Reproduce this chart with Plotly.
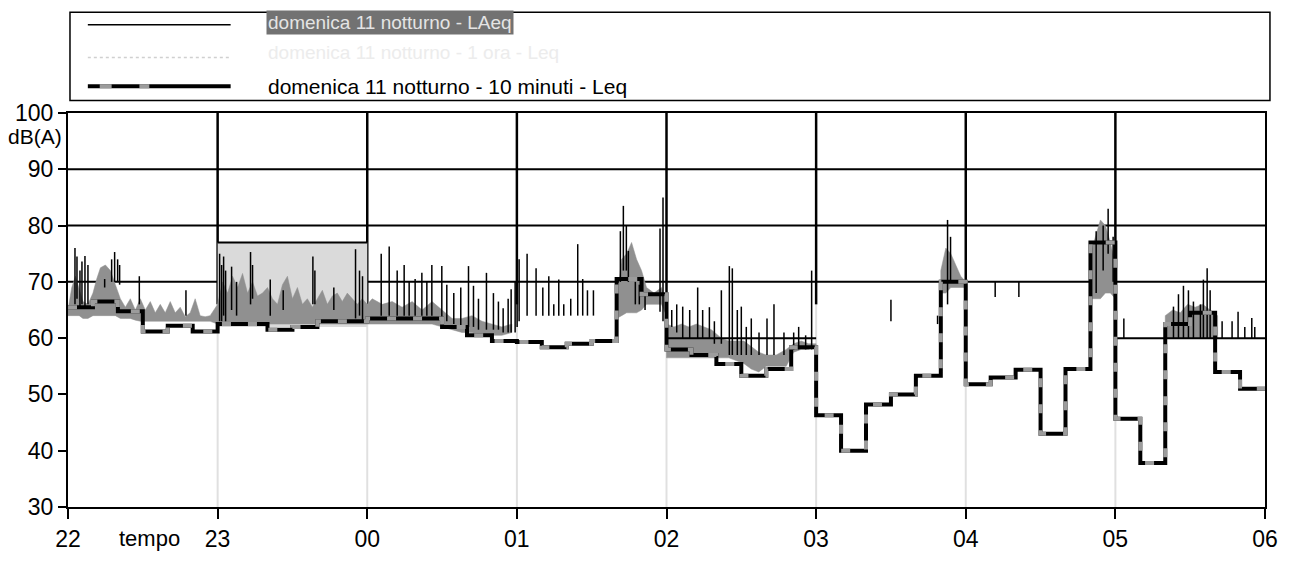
import plotly.graph_objects as go

# ---------------- data (time in minutes after 22:00) ----------------
hour_ticks = [0, 60, 120, 180, 240, 300, 360, 420, 480]
hour_labels = ["22", "23", "00", "01", "02", "03", "04", "05", "06"]
y_ticks = [30, 40, 50, 60, 70, 80, 90, 100]

# 10-minute Leq (start of each 10-minute interval)
leq10_start = list(range(0, 480, 10))
leq10_value = [65.5, 66.5, 64.8, 61.2, 62.2, 61.2,
               62.5, 62.5, 61.5, 62.0, 63.0, 63.0,
               63.5, 63.5, 63.5, 62.0, 60.5, 59.5,
               59.3, 58.4, 59.0, 59.5, 70.5, 67.8,
               58.0, 57.0, 55.4, 53.3, 54.5, 58.4,
               46.3, 40.0, 48.2, 50.0, 53.3, 70.0,
               51.8, 53.0, 54.4, 43.0, 54.5, 77.0,
               45.7, 37.8, 62.5, 64.5, 54.0, 51.0]

# short LAeq spikes: time, low, high
spike_t = [2.8, 3.6, 4.8, 5.6, 6.8, 8.0, 14.7, 17.5, 18.7, 19.9, 20.7, 28.6, 47.3,
           60.8, 61.6, 62.4, 63.2, 65.6, 67.6, 73.2, 74.0, 81.1, 86.3, 98.2, 99.0, 106.6, 115.3, 116.9, 118.1,
           125.6, 128.8, 132.0, 134.8, 136.8, 139.2, 141.9, 143.9, 145.9, 149.9, 151.9, 154.7, 157.5, 160.6,
           162.6, 164.6, 167.8, 170.6, 172.6, 174.5, 176.5, 177.7, 179.3,
           180.1, 180.9, 184.1, 187.7, 190.4, 192.8, 194.8, 196.8, 198.8, 201.6, 204.4, 206.4, 208.3, 210.7,
           221.5, 222.7, 223.9, 224.7, 227.5, 229.1, 231.4, 237.4, 238.6,
           242.1, 244.1, 246.5, 249.3, 252.5, 254.5, 257.2, 259.2, 262.0, 265.2, 266.4, 268.4, 270.0, 272.0,
           274.0, 277.1, 280.3, 283.1, 287.1, 291.0, 293.0, 295.8, 298.2,
           330.0, 348.7, 352.7, 353.9,
           371.8, 381.3, 410.3, 412.3, 415.1, 417.1, 419.1,
           423.4, 443.3, 445.3, 447.3, 449.3, 451.3, 454.1, 455.3, 456.8, 458.0, 462.8, 466.8, 469.2, 471.9,
           474.7, 475.9]
spike_lo = [66, 67, 65.5, 66, 65.5, 66, 69, 70, 70, 70, 69.5, 66, 64,
            63, 63, 64, 63, 65, 64, 66, 67, 64, 65, 66, 66, 65, 63.5, 64, 63,
            64, 64, 64, 64, 64, 64, 64, 64, 64, 63, 63, 62.5, 62, 62,
            62, 61.5, 61.5, 61.5, 61.5, 61, 61, 61, 61,
            62, 63, 64, 64, 64, 64, 64, 64, 64, 64, 64, 64, 64, 64,
            70, 72, 72, 70, 66, 66, 65, 64.7, 63,
            62, 61, 60, 60, 60, 60, 60, 59, 59, 57, 57, 57, 57, 57,
            57, 57, 57, 57, 57, 58, 58, 58, 58,
            63, 62.5, 66, 70,
            67.3, 67.3, 67, 68, 72, 75, 70,
            60, 60, 60, 60, 60, 60, 60, 60, 60, 60, 60, 60, 60, 60,
            60, 60]
spike_hi = [76, 74.5, 72, 73.6, 74.6, 73, 70.5, 74, 75.3, 74, 73, 71, 68.5,
            75, 73, 74.5, 72, 72.7, 70, 75.3, 73, 70.4, 68.5, 74.5, 72, 69, 75.8, 72, 71,
            75, 76.3, 72, 73, 70, 70.5, 71.6, 70, 73, 72.8, 69.5, 68, 69, 72.8,
            69.3, 67, 71.6, 68, 66.5, 65.3, 67, 68.7, 70,
            78.4, 74, 75, 72.4, 69, 71, 66, 70.4, 66, 67, 76.7, 70.5, 68.5, 68.5,
            79, 83.5, 80, 75.5, 70, 69.5, 68, 79.5, 85,
            65, 66, 65.6, 65, 69, 65, 65.5, 63, 68.5, 72.8, 72.4, 65, 65.6, 62,
            63.5, 61, 63.5, 66, 61, 61, 62, 60.5, 72,
            66.8, 64, 81, 78,
            70, 70, 76, 79, 80, 83, 78,
            63.5, 65.6, 67.8, 69.3, 68.5, 66.5, 66, 70.4, 72.4, 68.5, 63, 63, 64.7, 62,
            63.6, 62]

# grey fast-level band (blocks separated by None)
grey_t = [0, 1.5, 3, 4.5, 6, 8, 10, 11.5, 13, 15, 17, 19, 21, 23, 25, 27, 29, 31, 33, 35, 37, 39, 41, 43, 45,
          47, 49, 51, 53, 55, 57, 60, 62, 64, 66, 68, 70, 72, 74, 76, 78, 80, 82, 84, 86, 88, 90, 92, 94,
          96, 98, 100, 102, 104, 106, 108, 110, 112, 114, 116, 118, 120, 122, 126, 130, 134, 138, 142, 146,
          150, 154, 158, 162, 166, 170, 174, 178, None,
          220, 222, 224, 226, 228, 230, 232, 235, 238, 240, None,
          240, 243, 246, 249, 252, 255, 258, 262, 265, 268, 271, 274, 277, 280, 284, 288, 291, 294, 297, 300, None,
          350, 352, 354, 356, 358, 360, None,
          410, 412, 414, 416, 418, 420, None,
          440, 443, 446, 449, 452, 455, 458, 461]
grey_hi = [65, 69, 71, 68.5, 66.5, 66, 68, 70.5, 72.5, 73, 72, 69.5, 67, 65.5, 67, 65, 67, 65, 66.5, 64.5, 66,
           64.5, 66.5, 64.5, 65.5, 63.8, 64.5, 67, 64, 63.8, 64, 66, 70, 68, 71, 69, 71.5, 68, 70, 67.5, 68,
           69, 67, 66, 69.5, 71, 67, 69, 66, 67, 65.5, 67, 68.5, 66, 67.5, 68, 66.5, 68, 67, 66, 67, 66,
           67, 66, 66.5, 65.5, 66.5, 65, 66.5, 65, 63.5, 63.5, 64, 63, 62.5, 62, 62.5, None,
           66, 74, 75, 77, 74, 72, 69, 68, 69, 66, None,
           62.5, 62, 62.5, 62, 62.5, 62, 61.5, 60, 59.5, 59.5, 59.5, 58.5, 57.5, 57, 57, 58, 59, 59.5, 59, 59, None,
           72, 76, 75, 73, 71, 70, None,
           75, 78, 81, 80, 77, 73, None,
           64, 65, 64.5, 66, 65.5, 66, 65, 64]
grey_lo = [64, 64, 64, 64, 63.5, 63.5, 64, 64, 64, 64, 64, 64, 63.5, 63.5, 63.5, 63.2, 63, 63, 63, 63, 63,
           63, 63, 63, 63, 63, 63, 63, 63, 63, 63, 62.5, 62.5, 62.5, 62.5, 62.5, 62.5, 62.5, 62.5, 62.5, 62.5,
           62.5, 62.5, 62.5, 62.5, 62.5, 62.5, 62.5, 62.5, 62.5, 62.5, 62.5, 62.5, 62.5, 62.5, 62.5, 62.5, 62.5,
           62.5, 62.5, 62.5, 62.5, 62.5, 62.5, 62.5, 62.5, 62.5, 62.5, 62.5, 62, 61.5, 61, 61, 60.5, 60.5,
           60.5, 61, None,
           63.5, 64, 64.5, 64.5, 64.5, 65, 66, 66, 66, 64, None,
           56.5, 56.5, 56.5, 56.5, 56.5, 56.5, 56.5, 56.5, 56.5, 56, 55.5, 54.5, 54, 55, 55, 55, 57.5, 58, 58, 58.5, None,
           68, 68, 69, 69, 69, 69, None,
           67, 67, 67, 68, 68, 67, None,
           60, 60, 60, 60, 60, 60, 60, 60]

# hourly reference segments
hour_seg_start = [60, 240, 420]
hour_seg_level = [77, 60, 60]
# highlighted hour (23-00) band
hl_start, hl_end, hl_lo, hl_hi = 60, 120, 62, 77

legend_names = ["domenica 11 notturno - LAeq",
                "domenica 11 notturno - 1 ora - Leq",
                "domenica 11 notturno - 10 minuti - Leq"]

# ---------------- figure ----------------
L, R, T, B = 68, 1275, 113, 524
W, H = 1290, 564


def px(x):
    return (x - L) / (R - L)


def py(y):
    return (B - y) / (B - T)


FONT = "Liberation Sans, Arial, sans-serif"
fig = go.Figure()

# highlighted hour band
fig.add_trace(go.Scatter(x=[hl_start, hl_end, hl_end, hl_start, hl_start],
                         y=[hl_lo, hl_lo, hl_hi, hl_hi, hl_lo],
                         fill="toself", fillcolor="#dadada", line=dict(width=0),
                         mode="lines", hoverinfo="skip", showlegend=False))

# grey band polygons
poly_x, poly_y = [], []
blk_t, blk_hi, blk_lo = [], [], []
for t, hi, lo in list(zip(grey_t, grey_hi, grey_lo)) + [(None, None, None)]:
    if t is None:
        if blk_t:
            poly_x += blk_t + blk_t[::-1] + [blk_t[0], None]
            poly_y += blk_hi + blk_lo[::-1] + [blk_hi[0], None]
        blk_t, blk_hi, blk_lo = [], [], []
    else:
        blk_t.append(t); blk_hi.append(hi); blk_lo.append(lo)
fig.add_trace(go.Scatter(x=poly_x, y=poly_y, fill="toself", fillcolor="#909090",
                         line=dict(width=0.5, color="#909090"), mode="lines",
                         hoverinfo="skip", showlegend=False))

# hourly reference segments
hx, hy = [], []
for s, v in zip(hour_seg_start, hour_seg_level):
    hx += [s, s + 60, None]
    hy += [v, v, None]
fig.add_trace(go.Scatter(x=hx, y=hy, mode="lines", line=dict(color="black", width=2),
                         hoverinfo="skip", showlegend=False))

# thin LAeq spikes
sx, sy = [], []
for t, lo, hi in zip(spike_t, spike_lo, spike_hi):
    sx += [t, t, None]
    sy += [lo, hi, None]
fig.add_trace(go.Scatter(x=sx, y=sy, mode="lines", line=dict(color="black", width=1.5),
                         name=legend_names[0], showlegend=False))

# 10-minute Leq step line
stx = leq10_start + [480]
sty = leq10_value + [leq10_value[-1]]
fig.add_trace(go.Scatter(x=stx, y=sty, mode="lines", line_shape="hv",
                         line=dict(color="black", width=4), name=legend_names[2], showlegend=False))
fig.add_trace(go.Scatter(x=stx, y=sty, mode="lines", line_shape="hv",
                         line=dict(color="#9c9c9c", width=4, dash="9px,17px"),
                         hoverinfo="skip", showlegend=False))

shapes = []
# horizontal gridlines
for v in [70, 80, 90]:
    shapes.append(dict(type="line", xref="paper", yref="y", x0=0, x1=1, y0=v, y1=v,
                       line=dict(color="black", width=2), layer="below"))
# vertical gridlines
for h in hour_ticks[1:-1]:
    shapes.append(dict(type="line", xref="x", yref="y", x0=h, x1=h, y0=30, y1=66,
                       line=dict(color="#e0e0e0", width=2), layer="below"))
    shapes.append(dict(type="line", xref="x", yref="y", x0=h, x1=h, y0=66, y1=100,
                       line=dict(color="black", width=2.5), layer="below"))

# legend box
shapes.append(dict(type="rect", xref="paper", yref="paper", x0=px(70), x1=px(1280),
                   y0=py(100), y1=py(8), line=dict(color="black", width=1.5)))
shapes.append(dict(type="line", xref="paper", yref="paper", x0=px(88), x1=px(232),
                   y0=py(21), y1=py(21), line=dict(color="black", width=1.5)))
shapes.append(dict(type="line", xref="paper", yref="paper", x0=px(88), x1=px(232),
                   y0=py(55), y1=py(55), line=dict(color="#d0d0d0", width=1.5, dash="dot")))
shapes.append(dict(type="line", xref="paper", yref="paper", x0=px(88), x1=px(232),
                   y0=py(85), y1=py(85), line=dict(color="black", width=4)))
shapes.append(dict(type="line", xref="paper", yref="paper", x0=px(100), x1=px(112),
                   y0=py(85), y1=py(85), line=dict(color="#9c9c9c", width=4)))
shapes.append(dict(type="line", xref="paper", yref="paper", x0=px(140), x1=px(150),
                   y0=py(85), y1=py(85), line=dict(color="#9c9c9c", width=4)))

annotations = [
    dict(text=legend_names[0], x=px(268), y=py(19), xref="paper", yref="paper",
         xanchor="left", yanchor="middle", showarrow=False, bgcolor="#727272",
         font=dict(family=FONT, size=19, color="#e4e4e4"), borderpad=1),
    dict(text=legend_names[1], x=px(268), y=py(50), xref="paper", yref="paper",
         xanchor="left", yanchor="middle", showarrow=False,
         font=dict(family=FONT, size=19, color="#ececec")),
    dict(text=legend_names[2], x=px(268), y=py(85), xref="paper", yref="paper",
         xanchor="left", yanchor="middle", showarrow=False,
         font=dict(family=FONT, size=21, color="black")),
    dict(text="dB(A)", x=px(35), y=py(138), xref="paper", yref="paper",
         xanchor="center", yanchor="middle", showarrow=False,
         font=dict(family=FONT, size=21, color="black")),
    dict(text="tempo", x=px(150), y=py(557), xref="paper", yref="paper",
         xanchor="center", yanchor="middle", showarrow=False,
         font=dict(family=FONT, size=22, color="black")),
]

fig.update_layout(
    width=W, height=H,
    margin=dict(l=L, r=W - R, t=T, b=H - B),
    paper_bgcolor="white", plot_bgcolor="white",
    showlegend=False,
    shapes=shapes, annotations=annotations,
    font=dict(family=FONT, color="black"),
    xaxis=dict(range=[0, 480], tickvals=hour_ticks, ticktext=hour_labels,
               showgrid=False, zeroline=False, showline=True, mirror=True,
               linecolor="black", linewidth=2, ticks="outside", ticklen=10,
               tickwidth=1.5, tickcolor="black", tickfont=dict(size=23, family=FONT)),
    yaxis=dict(range=[30, 100], tickvals=y_ticks, showgrid=False, zeroline=False,
               showline=True, mirror=True, linecolor="black", linewidth=2,
               ticks="outside", ticklen=8, tickwidth=1.5, tickcolor="black",
               tickfont=dict(size=23, family=FONT)),
)

fig.write_html("out.html")
